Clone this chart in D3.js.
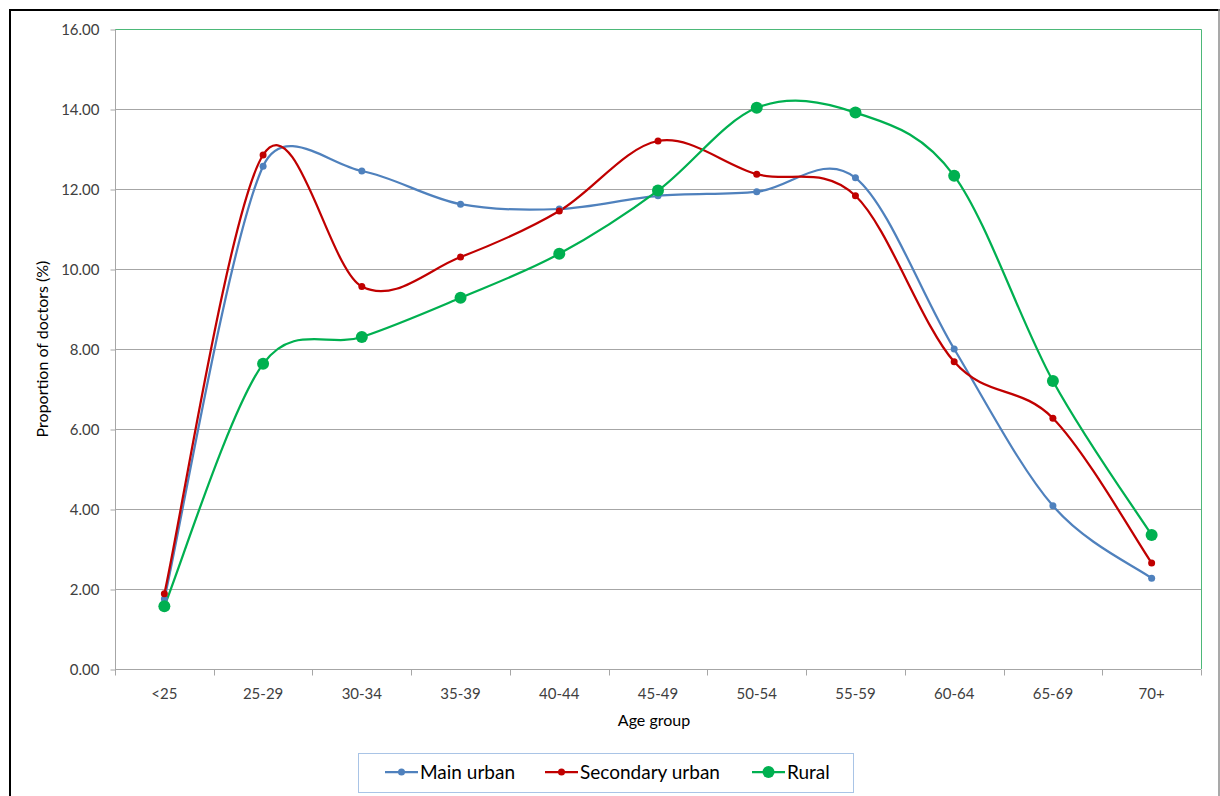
<!DOCTYPE html>
<html>
<head>
<meta charset="utf-8">
<script src="https://cdn.jsdelivr.net/npm/d3@7"></script>
<style>
  body { margin: 0; background: #fff; }
  svg { display: block; font-family: Lato, "Open Sans", sans-serif; }
</style>
</head>
<body>
<svg id="chart" width="1220" height="796"></svg>
<script>
// data
var ageGroups = ["<25", "25-29", "30-34", "35-39", "40-44", "45-49", "50-54", "55-59", "60-64", "65-69", "70+"];
var mainUrban = [1.75, 12.57, 12.45, 11.62, 11.50, 11.83, 11.93, 12.28, 8.00, 4.08, 2.27];
var secondaryUrban = [1.88, 12.85, 9.56, 10.30, 11.45, 13.20, 12.37, 11.83, 7.68, 6.27, 2.65];
var rural = [1.57, 7.63, 8.30, 9.28, 10.38, 11.96, 14.03, 13.91, 12.33, 7.20, 3.35];
var yTicks = [0, 2, 4, 6, 8, 10, 12, 14, 16];

var series = [
    { name: "Main urban", values: mainUrban, color: "#4f81bd", r: 3.5 },
    { name: "Secondary urban", values: secondaryUrban, color: "#c00000", r: 3.5 },
    { name: "Rural", values: rural, color: "#00b050", r: 6 }
];

var svg = d3.select("#chart");

// outer frame (window edges)
svg.append("line").attr("x1", 9).attr("x2", 1220).attr("y1", 10).attr("y2", 10)
    .style("stroke", "#000").style("stroke-width", 2);
svg.append("line").attr("x1", 10).attr("x2", 10).attr("y1", 9).attr("y2", 796)
    .style("stroke", "#000").style("stroke-width", 2);
svg.append("line").attr("x1", 1219).attr("x2", 1219).attr("y1", 9).attr("y2", 796)
    .style("stroke", "#8c8c8c").style("stroke-width", 1.5);

var plotLeft = 115, plotRight = 1201, plotTop = 29, plotBottom = 669;

var x = d3.scaleBand().domain(ageGroups).range([plotLeft, plotRight]);
var y = d3.scaleLinear().domain([0, 16]).range([plotBottom, plotTop]);

// gridlines
svg.append("g").selectAll("line")
    .data(yTicks.slice(1))
    .enter().append("line")
    .attr("x1", plotLeft).attr("x2", plotRight)
    .attr("y1", function (d) { return y(d) + 0.5; })
    .attr("y2", function (d) { return y(d) + 0.5; })
    .style("stroke", "#a6a6a6").style("stroke-width", 1);

// plot area border (green, top + right)
svg.append("path")
    .attr("d", "M" + plotLeft + "," + (plotTop + 0.5) + "H" + (plotRight + 0.5) + "V" + plotBottom)
    .style("fill", "none").style("stroke", "#4cb878").style("stroke-width", 1);

// y axis
var yAxis = svg.append("g")
    .attr("transform", "translate(" + (plotLeft + 0.5) + ",0.5)")
    .call(d3.axisLeft(y).tickValues(yTicks).tickSize(5).tickPadding(11)
        .tickFormat(function (d) { return d.toFixed(2); }));
yAxis.select(".domain").style("stroke", "#a6a6a6").attr("d", "M0," + plotTop + "V" + plotBottom);
yAxis.selectAll(".tick line").style("stroke", "#a6a6a6");
yAxis.selectAll("text").style("font-size", "15px").style("fill", "#404040")
    .style("font-family", "Lato, 'Open Sans', sans-serif");

// x axis
var xAxis = svg.append("g")
    .attr("transform", "translate(0," + (plotBottom + 0.5) + ")")
    .call(d3.axisBottom(x).tickSize(0).tickPadding(19));
xAxis.select(".domain").style("stroke", "#a6a6a6").attr("d", "M" + plotLeft + ",0H" + plotRight);
xAxis.selectAll("text").style("font-size", "15px").style("fill", "#404040")
    .style("font-family", "Lato, 'Open Sans', sans-serif");
// tick marks at category boundaries
xAxis.append("g").selectAll("line")
    .data(ageGroups.concat(["end"]))
    .enter().append("line")
    .attr("x1", function (d, i) { return Math.round(plotLeft + i * x.bandwidth()) + 0.5; })
    .attr("x2", function (d, i) { return Math.round(plotLeft + i * x.bandwidth()) + 0.5; })
    .attr("y1", 0).attr("y2", 6)
    .style("stroke", "#a6a6a6");

// axis titles
svg.append("text")
    .attr("x", (plotLeft + plotRight) / 2 - 4).attr("y", 726)
    .attr("text-anchor", "middle")
    .style("font-size", "16px").style("fill", "#000")
    .text("Age group");
svg.append("text")
    .attr("transform", "translate(48," + ((plotTop + plotBottom) / 2) + ") rotate(-90)")
    .attr("text-anchor", "middle")
    .style("font-size", "16px").style("fill", "#000")
    .text("Proportion of doctors (%)");

// excel-ish smoothing: catmull-rom control points (1/6 of neighbour span),
// limited to half the segment length so short segments don't overshoot
function excelCurve(context) {
    var pts;
    return {
        areaStart: function () {}, areaEnd: function () {},
        lineStart: function () { pts = []; },
        point: function (px, py) { pts.push([+px, +py]); },
        lineEnd: function () {
            var n = pts.length;
            if (!n) return;
            context.moveTo(pts[0][0], pts[0][1]);
            for (var i = 0; i < n - 1; i++) {
                var p0 = pts[Math.max(i - 1, 0)], p1 = pts[i], p2 = pts[i + 1], p3 = pts[Math.min(i + 2, n - 1)];
                var d = Math.hypot(p2[0] - p1[0], p2[1] - p1[1]), lim = d * 0.5;
                var t1 = [(p2[0] - p0[0]) / 6, (p2[1] - p0[1]) / 6];
                var t2 = [(p3[0] - p1[0]) / 6, (p3[1] - p1[1]) / 6];
                var l1 = Math.hypot(t1[0], t1[1]), l2 = Math.hypot(t2[0], t2[1]);
                if (l1 > lim) { t1 = [t1[0] * lim / l1, t1[1] * lim / l1]; }
                if (l2 > lim) { t2 = [t2[0] * lim / l2, t2[1] * lim / l2]; }
                context.bezierCurveTo(p1[0] + t1[0], p1[1] + t1[1], p2[0] - t2[0], p2[1] - t2[1], p2[0], p2[1]);
            }
        }
    };
}

var line = d3.line()
    .x(function (d, i) { return x(ageGroups[i]) + x.bandwidth() / 2; })
    .y(function (d) { return y(d); })
    .curve(excelCurve);

var g = svg.append("g");
series.forEach(function (s) {
    g.append("path")
        .datum(s.values)
        .attr("d", line)
        .style("fill", "none")
        .style("stroke", s.color)
        .style("stroke-width", 2.25);
});
series.forEach(function (s) {
    g.append("g").selectAll("circle")
        .data(s.values)
        .enter().append("circle")
        .attr("cx", function (d, i) { return x(ageGroups[i]) + x.bandwidth() / 2; })
        .attr("cy", function (d) { return y(d); })
        .attr("r", s.r)
        .style("fill", s.color);
});

// legend
var legend = svg.append("g");
legend.append("rect")
    .attr("x", 358.5).attr("y", 753.5).attr("width", 495).attr("height", 39)
    .style("fill", "#fff").style("stroke", "#a9c4e6").style("stroke-width", 1);
var legendX = [385, 545, 752];
series.forEach(function (s, i) {
    var lg = legend.append("g").attr("transform", "translate(" + legendX[i] + ",772)");
    lg.append("line").attr("x1", 0).attr("x2", 33).attr("y1", 0).attr("y2", 0)
        .style("stroke", s.color).style("stroke-width", 2.25);
    lg.append("circle").attr("cx", 16.5).attr("cy", 0).attr("r", s.r).style("fill", s.color);
    lg.append("text").attr("x", 35).attr("y", 6.5)
        .style("font-size", "19px").style("fill", "#000")
        .text(s.name);
});
</script>
</body>
</html>
